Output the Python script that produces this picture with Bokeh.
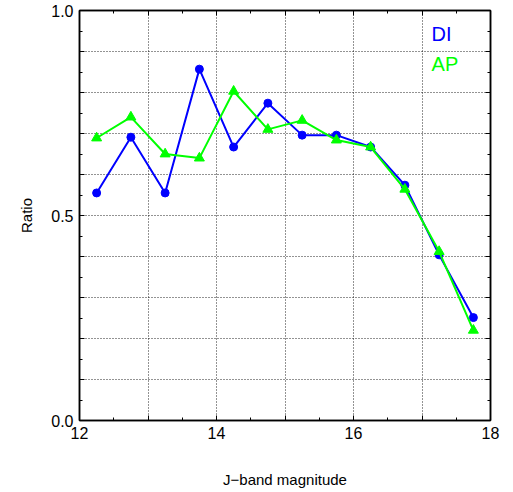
from bokeh.plotting import figure
from bokeh.models import FixedTicker, LinearAxis, Range1d, Label
from bokeh.embed import file_html
from bokeh.resources import INLINE

# ---- data ----
magnitude = [12.25, 12.75, 13.25, 13.75, 14.25, 14.75, 15.25, 15.75, 16.25, 16.75, 17.25, 17.75]
ratio_di = [0.555, 0.691, 0.555, 0.857, 0.667, 0.774, 0.696, 0.696, 0.667, 0.574, 0.404, 0.251]
ratio_ap = [0.689, 0.740, 0.650, 0.640, 0.803, 0.710, 0.732, 0.684, 0.667, 0.564, 0.412, 0.220]

x_major = [12, 13, 14, 15, 16, 17, 18]
x_minor = [12.5, 13.5, 14.5, 15.5, 16.5, 17.5]
x_labels = {12: "12", 13: "", 14: "14", 15: "", 16: "16", 17: "", 18: "18"}
y_major = [0.0, 0.1, 0.2, 0.3, 0.4, 0.5, 0.6, 0.7, 0.8, 0.9, 1.0]
y_minor = [0.05, 0.15, 0.25, 0.35, 0.45, 0.55, 0.65, 0.75, 0.85, 0.95]
y_labels = {0: "0.0", 0.1: "", 0.2: "", 0.3: "", 0.4: "", 0.5: "0.5",
            0.6: "", 0.7: "", 0.8: "", 0.9: "", 1: "1.0"}
series_names = ["DI", "AP"]
series_colors = ["#0000ff", "#00ff00"]

FONT = "Liberation Sans"

p = figure(width=513, height=492, x_range=Range1d(12, 18), y_range=Range1d(0, 1),
           output_backend="svg", toolbar_location=None,
           min_border_left=79, min_border_right=23, min_border_top=10, min_border_bottom=72,
           x_axis_label="J\u2212band magnitude", y_axis_label="Ratio")
p.background_fill_color = "white"
p.border_fill_color = "white"
p.outline_line_color = "black"
p.outline_line_width = 1.5

xt = FixedTicker(ticks=x_major, minor_ticks=x_minor)
yt = FixedTicker(ticks=y_major, minor_ticks=y_minor)

def style_axis(ax, ticker, labels, show):
    ax.ticker = ticker
    ax.axis_line_color = "black"
    ax.axis_line_width = 1.5
    ax.major_tick_in = 5
    ax.major_tick_out = 0
    ax.minor_tick_in = 3
    ax.minor_tick_out = 0
    ax.major_tick_line_color = "black"
    ax.minor_tick_line_color = "black"
    if show:
        ax.major_label_overrides = labels
        ax.major_label_text_font = FONT
        ax.major_label_text_font_size = "16px"
        ax.major_label_text_color = "black"
        ax.axis_label_text_font = FONT
        ax.axis_label_text_font_size = "15px"
        ax.axis_label_text_font_style = "normal"
        ax.axis_label_text_color = "black"
    else:
        ax.major_label_text_font_size = "0px"
        ax.major_label_standoff = 0

style_axis(p.xaxis[0], xt, x_labels, True)
style_axis(p.yaxis[0], yt, y_labels, True)
p.xaxis[0].major_label_standoff = 6
p.xaxis[0].axis_label_standoff = 29
p.yaxis[0].major_label_standoff = 6
p.yaxis[0].axis_label_standoff = 13

top = LinearAxis()
right = LinearAxis()
p.add_layout(top, "above")
p.add_layout(right, "right")
style_axis(top, xt, None, False)
style_axis(right, yt, None, False)
top.major_label_overrides = {t: "" for t in x_major}
right.major_label_overrides = {t: "" for t in y_major}

p.xgrid.ticker = xt
p.ygrid.ticker = yt
for g in (p.xgrid, p.ygrid):
    g.grid_line_color = "black"
    g.grid_line_dash = "1 2"
    g.grid_line_width = 1
    g.grid_line_alpha = 0.85

p.line(magnitude, ratio_di, line_color=series_colors[0], line_width=2)
p.scatter(magnitude, ratio_di, marker="circle", size=8, fill_color=series_colors[0], line_color=series_colors[0])
p.line(magnitude, ratio_ap, line_color=series_colors[1], line_width=2)
p.scatter(magnitude, ratio_ap, marker="triangle", size=10, fill_color=series_colors[1], line_color=series_colors[1])

for name, color, yy in zip(series_names, series_colors, [0.942, 0.870]):
    p.add_layout(Label(x=17.14, y=yy, text=name, text_color=color, text_font=FONT,
                       text_font_size="20px", text_baseline="alphabetic"))

open("out.html", "w").write(file_html(p, INLINE))
